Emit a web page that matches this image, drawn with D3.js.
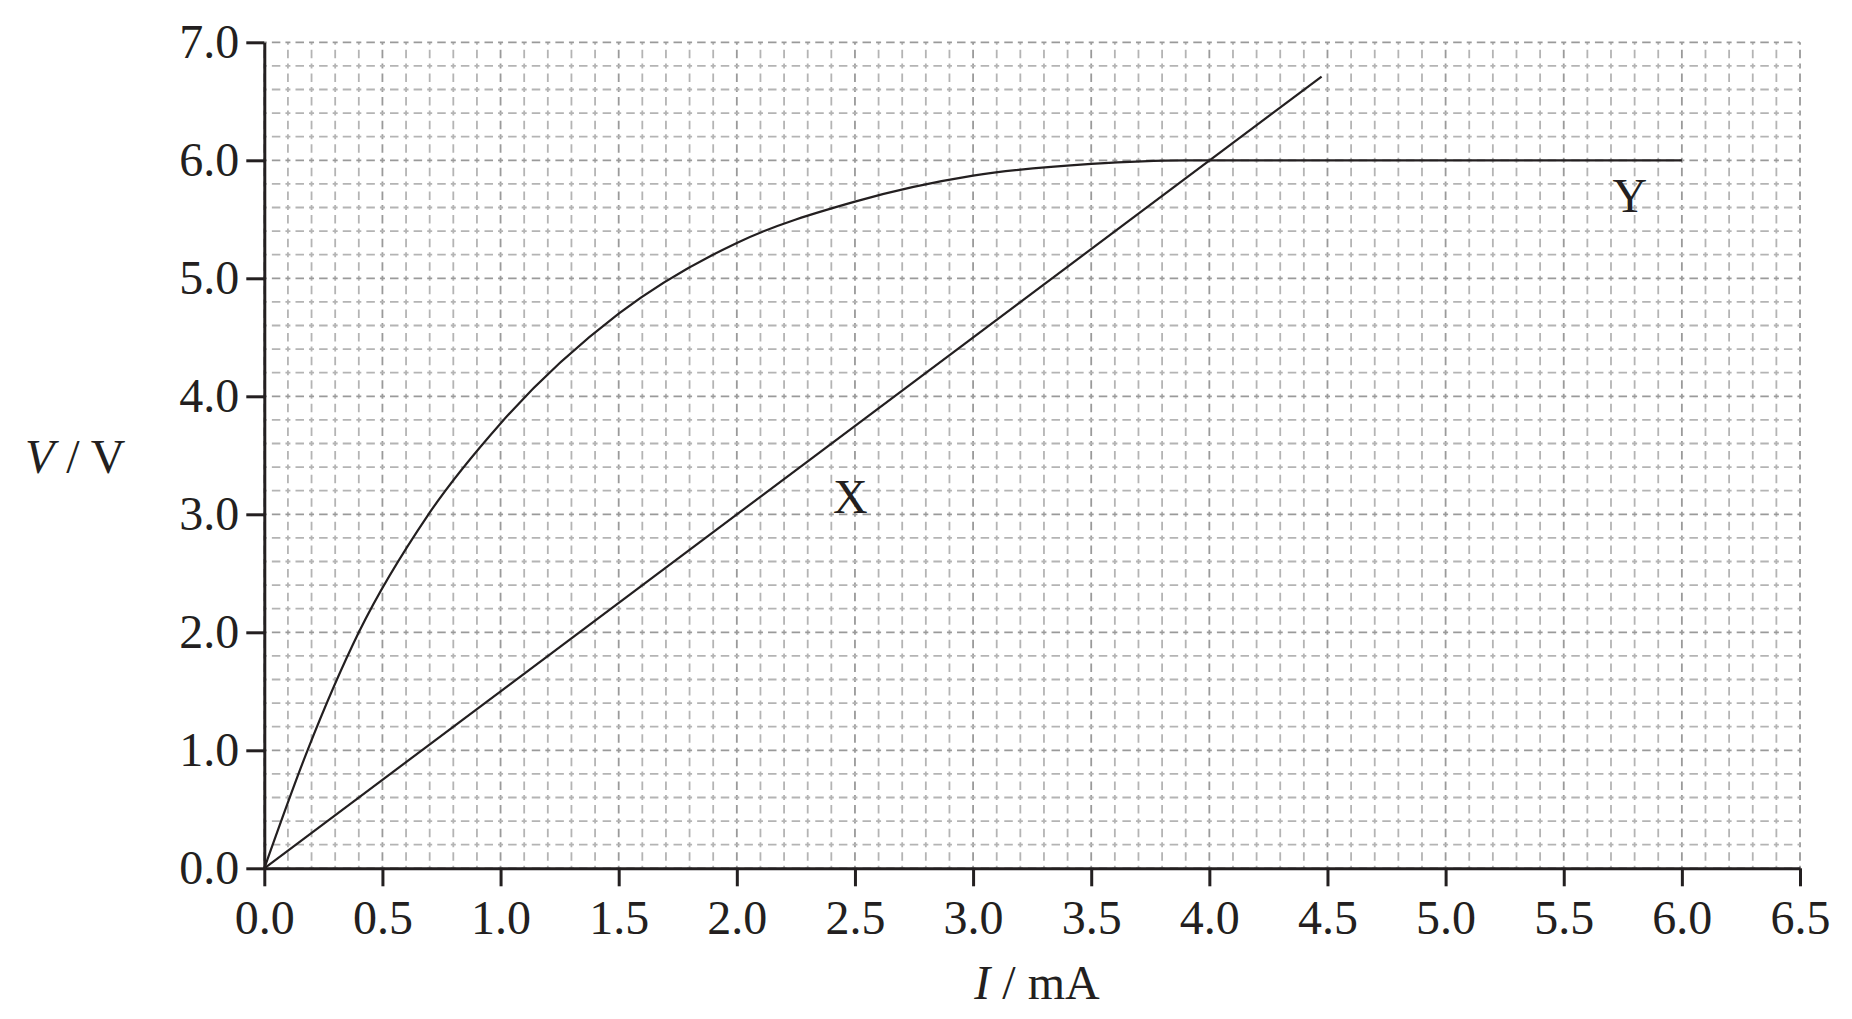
<html>
<head>
<style>
  body { margin: 0; background: white; }
  text { font-family: "Liberation Serif", "Times New Roman", serif; fill: #231f20; }
</style>
</head>
<body>
<svg id="chart" width="1852" height="1019"></svg>

<script src="https://d3js.org/d3.v7.min.js"></script>
<script>

// data
var lineX_I = [0, 4.475]                 // straight line X, mA
var lineX_V = [0, 6.71]                  // V
var curveY_I = [0, 0.183, 0.4, 0.695, 1.0, 1.5, 2.0, 2.5, 3.0, 3.5, 3.9, 6.0]
var curveY_V = [0, 1.0, 2.0, 3.0, 3.77, 4.7, 5.3, 5.65, 5.87, 5.97, 6.0, 6.0]
var xTicks = [0, 0.5, 1.0, 1.5, 2.0, 2.5, 3.0, 3.5, 4.0, 4.5, 5.0, 5.5, 6.0, 6.5]
var yTicks = [0, 1, 2, 3, 4, 5, 6, 7]
var labels = [{name: "X", I: 2.48, V: 3.01}, {name: "Y", I: 5.78, V: 5.56}]

var ink = "#231f20"
var svg = d3.select("#chart")

var scaleX = d3.scaleLinear()
  .domain([0, 6.5])
  .range([264.3, 1800])

var scaleY = d3.scaleLinear()
  .domain([0, 7])
  .range([868.3, 42.3])

// graph paper grid: vertical every 0.1 mA, horizontal every 0.2 V
var gx = d3.range(0, 66).map(function(i) { return i / 10 })
var gy = d3.range(0, 36).map(function(i) { return i / 5 })

var cellW = scaleX(0.1) - scaleX(0)
var cellH = scaleY(0) - scaleY(0.2)

function dashes(cell) {     // short arm at each crossing, longer dash in between
  var arm = 5, mid = 8.5
  var gap = (cell - arm - mid) / 2
  return [arm, gap, mid, gap].join(",")
}

var grid = svg.append("g").attr("fill", "none")

grid.selectAll(".vline")
  .data(gx)
  .enter()
  .append("line")
    .attr("class", "vline")
    .attr("x1", function(d) { return scaleX(d) })
    .attr("x2", function(d) { return scaleX(d) })
    .attr("y1", scaleY(0))
    .attr("y2", scaleY(7))
    .attr("stroke", function(d, i) { return i % 5 == 0 ? "#9a9a9a" : "#b4b4b4" })
    .attr("stroke-width", 1.8)
    .style("stroke-dasharray", dashes(cellH))
    .style("stroke-dashoffset", 2.5)

grid.selectAll(".hline")
  .data(gy)
  .enter()
  .append("line")
    .attr("class", "hline")
    .attr("x1", scaleX(0))
    .attr("x2", scaleX(6.5))
    .attr("y1", function(d) { return scaleY(d) })
    .attr("y2", function(d) { return scaleY(d) })
    .attr("stroke", function(d, i) { return i % 5 == 0 ? "#9a9a9a" : "#b4b4b4" })
    .attr("stroke-width", 1.8)
    .style("stroke-dasharray", dashes(cellW))
    .style("stroke-dashoffset", 2.5)

// curves
var lineFunc = d3.line()
  .curve(d3.curveMonotoneX)
  .x(function(d) { return scaleX(d[0]) })
  .y(function(d) { return scaleY(d[1]) })

svg.append("path")
  .attr("d", d3.line().x(function(d) { return scaleX(d[0]) }).y(function(d) { return scaleY(d[1]) })(d3.zip(lineX_I, lineX_V)))
  .attr("stroke", ink)
  .attr("stroke-width", 2.2)
  .attr("fill", "none")

svg.append("path")
  .attr("d", lineFunc(d3.zip(curveY_I, curveY_V)))
  .attr("stroke", ink)
  .attr("stroke-width", 2.2)
  .attr("fill", "none")

// axes
var xAxis = svg.append("g")
  .attr("transform", "translate(0," + scaleY(0) + ")")
  .call(d3.axisBottom(scaleX).tickValues(xTicks).tickFormat(d3.format(".1f")).tickSize(18).tickSizeOuter(0).tickPadding(14))

var yAxis = svg.append("g")
  .attr("transform", "translate(" + scaleX(0) + ",0)")
  .call(d3.axisLeft(scaleY).tickValues(yTicks).tickFormat(d3.format(".1f")).tickSize(18).tickSizeOuter(0).tickPadding(7))

svg.selectAll(".domain, .tick line")
  .attr("stroke", ink)
  .attr("stroke-width", 3)
svg.selectAll(".tick text")
  .attr("fill", ink)
  .style("font-size", "48px")
  .style("font-family", "'Liberation Serif', serif")

// axis titles
var yTitle = svg.append("text")
  .attr("x", 25)
  .attr("y", 473)
  .style("font-size", "48px")
yTitle.append("tspan").style("font-style", "italic").text("V")
yTitle.append("tspan").text(" / V")

var xTitle = svg.append("text")
  .attr("x", 1037)
  .attr("y", 999)
  .attr("text-anchor", "middle")
  .style("font-size", "48px")
xTitle.append("tspan").style("font-style", "italic").text("I")
xTitle.append("tspan").text(" / mA")

// curve names
svg.selectAll(".curvelabel")
  .data(labels)
  .enter()
  .append("text")
    .attr("class", "curvelabel")
    .attr("x", function(d) { return scaleX(d.I) })
    .attr("y", function(d) { return scaleY(d.V) })
    .attr("text-anchor", "middle")
    .style("font-size", "48px")
    .text(function(d) { return d.name })

</script>
</body>
</html>
